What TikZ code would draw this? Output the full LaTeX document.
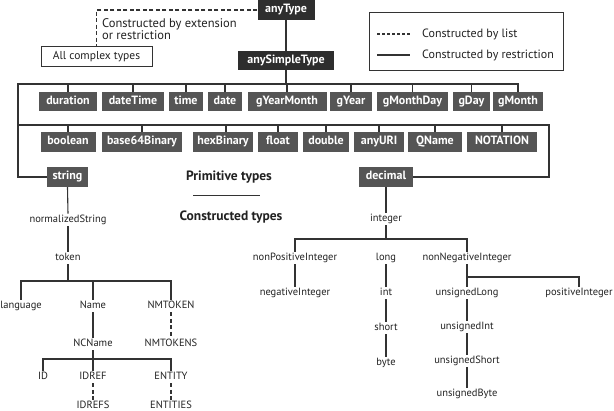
\documentclass[tikz,border=0pt]{standalone}
\usepackage{fontspec}
\setmainfont{PT Sans}
\definecolor{lc}{HTML}{333333}
\definecolor{bd}{HTML}{2E2E2E}
\definecolor{bx}{HTML}{555555}
\definecolor{tc}{HTML}{222222}
\begin{document}
\begin{tikzpicture}[x=1pt,y=-1pt,
  ln/.style={draw=lc, line width=1.1pt},
  dsh/.style={draw=lc, line width=1.1pt, dash pattern=on 4pt off 2.5pt},
  dbox/.style={fill=bd, text=white, font=\bfseries\fontsize{12}{14}\selectfont, minimum height=19pt, inner sep=0pt, text height=8.6pt, text depth=2.6pt},
  pbox/.style={fill=bx, text=white, font=\bfseries\fontsize{12}{14}\selectfont, minimum height=19pt, inner sep=0pt, text height=8.6pt, text depth=2.6pt},
  lbl/.style={font=\fontsize{10.5}{12}\selectfont, inner sep=1.2pt, text=tc, text height=7.5pt, text depth=2.3pt},
  note/.style={font=\fontsize{12.5}{12.5}\selectfont, text=tc, inner sep=0pt},
  head/.style={font=\bfseries\fontsize{13.5}{15}\selectfont, text=tc, inner sep=0pt}]
\useasboundingbox[fill=white] (0,0) rectangle (614,411);

% top
\node[dbox, minimum width=57pt, minimum height=20pt] (anyType) at (286,10) {anyType};
\node[dbox, minimum width=96pt] (anySimpleType) at (286,60.5) {anySimpleType};
\node[draw=lc, line width=1pt, fill=white, minimum width=111pt, minimum height=20pt, inner sep=0pt, font=\fontsize{11.5}{13}\selectfont, text=tc] (complex) at (96.5,57) {All complex types};
\draw[dsh] (anyType.west) -| (complex.north);
\node[note, anchor=west, align=left] (extnote) at (102,29) {Constructed by extension\\or restriction};
\draw[ln] (anyType.south) -- (anySimpleType.north);

% legend
\node[draw=lc, line width=1pt, minimum width=194pt, minimum height=58pt, inner sep=0pt] (legend) at (466,41.5) {};
\coordinate (la1) at (377,34);
\coordinate (la2) at (410,34);
\coordinate (lb1) at (377,55);
\coordinate (lb2) at (410,55);
\draw[dsh, dash pattern=on 3pt off 2pt] (la1) -- (la2);
\draw[ln] (lb1) -- (lb2);
\node[note, font=\fontsize{12}{14}\selectfont, anchor=west] (leg1) at (422,34) {Constructed by list};
\node[note, font=\fontsize{12}{14}\selectfont, anchor=west] (leg2) at (422,55) {Constructed by restriction};

% row 1
\node[pbox, minimum width=58pt] (duration) at (68,102) {duration};
\node[pbox, minimum width=62pt] (dateTime) at (133,102) {dateTime};
\node[pbox, minimum width=34pt] (time) at (186,102) {time};
\node[pbox, minimum width=34pt] (date) at (225,102) {date};
\node[pbox, minimum width=79pt] (gYearMonth) at (287,102) {gYearMonth};
\node[pbox, minimum width=42pt] (gYear) at (351,102) {gYear};
\node[pbox, minimum width=71pt] (gMonthDay) at (412.5,102) {gMonthDay};
\node[pbox, minimum width=37pt] (gDay) at (471.5,102) {gDay};
\node[pbox, minimum width=50pt] (gMonth) at (518,102) {gMonth};

% row 2
\node[pbox, minimum width=55pt, minimum height=20pt] (boolean) at (68,142) {boolean};
\node[pbox, minimum width=80pt, minimum height=20pt] (base64Binary) at (142,142) {base64Binary};
\node[pbox, minimum width=60pt, minimum height=20pt] (hexBinary) at (223,142) {hexBinary};
\node[pbox, minimum width=40pt, minimum height=20pt] (float) at (278,142) {float};
\node[pbox, minimum width=46pt, minimum height=20pt] (double) at (326,142) {double};
\node[pbox, minimum width=50pt, minimum height=20pt] (anyURI) at (379,142) {anyURI};
\node[pbox, minimum width=54pt, minimum height=20pt] (QName) at (435,142) {QName};
\node[pbox, minimum width=70pt, minimum height=20pt] (NOTATION) at (502,142) {NOTATION};

% row 3
\node[pbox, minimum width=41pt, minimum height=20pt] (string) at (67.5,177) {string};
\node[pbox, minimum width=54pt, minimum height=20pt] (decimal) at (386,177) {decimal};

% primitive backbone
\coordinate (t1L) at (18,84);
\coordinate (t1R) at (519,84);
\coordinate (t2L) at (18,125);
\coordinate (t2R) at (549,125);
\draw[ln] (anySimpleType.south) -- (anySimpleType.south |- t1L);
\draw[ln] (t1R) -- (t1L) |- (string.west);
\foreach \n in {duration,dateTime,time,date,gYearMonth,gYear,gMonthDay,gDay,gMonth}
  \draw[ln] (\n.north) -- (\n.north |- t1L);
\draw[ln] (t2L) -- (t2R) |- (decimal.east);
\coordinate (s2) at (226,0);
\foreach \n in {boolean,base64Binary,float,double,anyURI,QName,NOTATION}
  \draw[ln] (\n.north) -- (\n.north |- t2L);
\draw[ln] (hexBinary.north -| s2) -- (s2 |- t2L);

% headings
\node[head] (prim) at (229,177) {Primitive types};
\coordinate (sep1) at (193,195);
\coordinate (sep2) at (260,195);
\draw[ln, line width=0.9pt] (sep1) -- (sep2);
\node[head] (cons) at (231,217) {Constructed types};

% string tree
\node[lbl] (normalizedString) at (68,220) {normalizedString};
\node[lbl] (token) at (68,258) {token};
\node[lbl] (language) at (21,306) {language};
\node[lbl] (Name) at (93,306) {Name};
\node[lbl] (NMTOKEN) at (171,306) {NMTOKEN};
\node[lbl] (NCName) at (93,344) {NCName};
\node[lbl] (NMTOKENS) at (171,344) {NMTOKENS};
\node[lbl] (ID) at (43,377) {ID};
\node[lbl] (IDREF) at (93,377) {IDREF};
\node[lbl] (ENTITY) at (171,377) {ENTITY};
\node[lbl] (IDREFS) at (93,406) {IDREFS};
\node[lbl] (ENTITIES) at (171,406) {ENTITIES};

\draw[ln] (string.south) -- (normalizedString.north);
\draw[ln] (normalizedString.south) -- (token.north);
\coordinate (bTok) at (0,281);
\draw[ln] (token.south) -- (token.south |- bTok);
\draw[ln] (language.north) |- (NMTOKEN.north |- bTok) -- (NMTOKEN.north);
\draw[ln] (Name.north) -- (Name.north |- bTok);
\draw[ln] (Name.south) -- (NCName.north);
\draw[dsh] (NMTOKEN.south) -- (NMTOKENS.north);
\coordinate (bNC) at (0,359);
\draw[ln] (NCName.south) -- (NCName.south |- bNC);
\draw[ln] (ID.north) |- (ENTITY.north |- bNC) -- (ENTITY.north);
\draw[ln] (IDREF.north) -- (IDREF.north |- bNC);
\draw[dsh] (IDREF.south) -- (IDREFS.north);
\draw[dsh] (ENTITY.south) -- (ENTITIES.north);

% decimal tree
\node[lbl] (integer) at (386,219) {integer};
\node[lbl] (nonPositiveInteger) at (295,258) {nonPositiveInteger};
\node[lbl] (long) at (386,258) {long};
\node[lbl] (nonNegativeInteger) at (467,258) {nonNegativeInteger};
\node[lbl] (negativeInteger) at (295,293) {negativeInteger};
\node[lbl] (int) at (386,293) {int};
\node[lbl] (short) at (386,328) {short};
\node[lbl] (byte) at (386,363) {byte};
\node[lbl] (unsignedLong) at (467,293) {unsignedLong};
\node[lbl] (positiveInteger) at (579,293) {positiveInteger};
\node[lbl] (unsignedInt) at (467,327) {unsignedInt};
\node[lbl] (unsignedShort) at (467,361) {unsignedShort};
\node[lbl] (unsignedByte) at (467,394) {unsignedByte};

\draw[ln] (decimal.south) -- (integer.north);
\coordinate (bInt) at (0,239);
\draw[ln] (integer.south) -- (integer.south |- bInt);
\draw[ln] (nonPositiveInteger.north) |- (nonNegativeInteger.north |- bInt) -- (nonNegativeInteger.north);
\draw[ln] (nonPositiveInteger.south) -- (negativeInteger.north);
\draw[ln] (long.south) -- (int.north);
\draw[ln] (int.south) -- (short.north);
\draw[ln] (short.south) -- (byte.north);
\coordinate (bNN) at (0,277);
\draw[ln] (nonNegativeInteger.south) -- (unsignedLong.north);
\draw[ln] (nonNegativeInteger.south |- bNN) -| (positiveInteger.north);
\draw[ln] (unsignedLong.south) -- (unsignedInt.north);
\draw[ln] (unsignedInt.south) -- (unsignedShort.north);
\draw[ln] (unsignedShort.south) -- (unsignedByte.north);
\end{tikzpicture}
\end{document}
